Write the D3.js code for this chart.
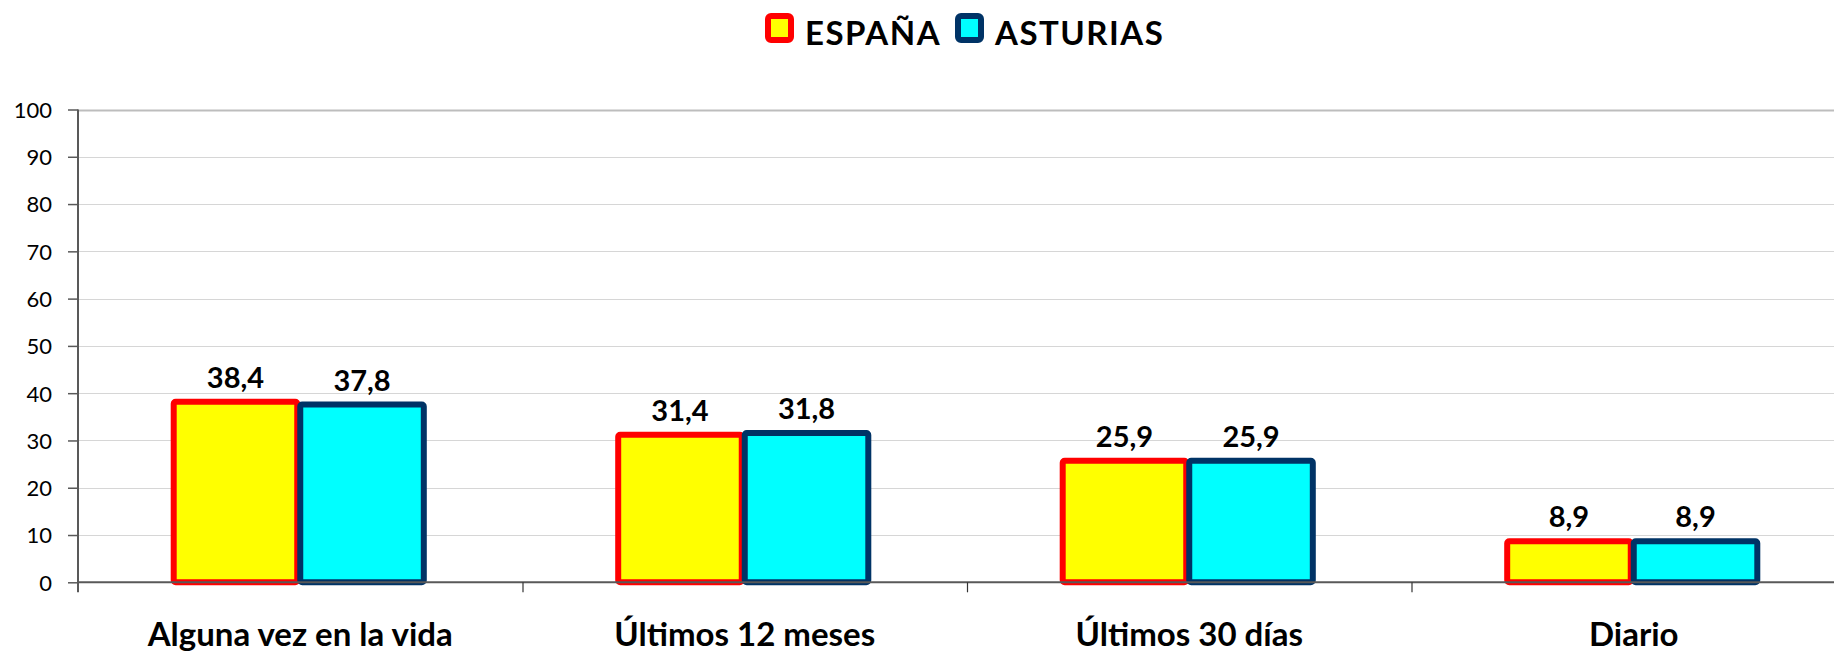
<!DOCTYPE html>
<html>
<head>
<meta charset="utf-8">
<script src="https://cdn.jsdelivr.net/npm/d3@7"></script>
<style>
  body { margin: 0; background: #fff; }
  svg { display: block; font-family: Lato, "Open Sans", sans-serif; }
</style>
</head>
<body>
<svg id="chart"></svg>
<script>
// data
var categories = ["Alguna vez en la vida", "Últimos 12 meses", "Últimos 30 días", "Diario"];
var seriesNames = ["ESPAÑA", "ASTURIAS"];
var espana = [38.4, 31.4, 25.9, 8.9];
var asturias = [37.8, 31.8, 25.9, 8.9];
var yTicks = [0, 10, 20, 30, 40, 50, 60, 70, 80, 90, 100];

var fills = ["#ffff00", "#00ffff"];
var strokes = ["#ff0000", "#003366"];

var W = 1834, H = 654;
var left = 78, bandW = 444.5;
var y0 = 582.3, y100 = 109.5;

var svg = d3.select("#chart").attr("width", W).attr("height", H);

var x = d3.scaleBand().domain(categories).range([left, left + bandW * categories.length]);
var xSub = d3.scaleBand().domain(seriesNames).range([92.7, bandW - 92.7]);
var y = d3.scaleLinear().domain([0, 100]).range([y0, y100]);

// gridlines
svg.append("g").selectAll("line")
  .data(yTicks.filter(d => d > 0))
  .join("line")
  .attr("x1", left).attr("x2", W)
  .attr("y1", d => Math.round(y(d)) + 0.5).attr("y2", d => Math.round(y(d)) + 0.5)
  .attr("stroke", d => d == 100 ? "#bdbdbd" : "#d6d6d6")
  .attr("stroke-width", d => d == 100 ? 2 : 1.2);

// y axis
var yAxis = d3.axisLeft(y).tickValues(yTicks).tickSize(10).tickPadding(16);
var gY = svg.append("g")
  .attr("transform", "translate(" + left + ",0)")
  .call(yAxis)
  .attr("font-size", 22)
  .attr("font-family", "Lato, sans-serif");
gY.select(".domain").remove();
gY.selectAll(".tick line").attr("stroke", "#595959").attr("stroke-width", 1.5);
gY.selectAll(".tick text").attr("fill", "#000").attr("dy", "0.36em");
svg.append("line")
  .attr("x1", left).attr("x2", left)
  .attr("y1", y100).attr("y2", y0 + 10)
  .attr("stroke", "#595959").attr("stroke-width", 2);

// bars
var data = [espana, asturias];
var gBars = svg.append("g");
data.forEach(function(vals, s) {
  var shift = s == 1 ? -3 : 0;
  gBars.selectAll(".bar" + s)
    .data(vals)
    .join("rect")
    .attr("class", "bar" + s)
    .attr("x", (d, i) => x(categories[i]) + xSub(seriesNames[s]) + 3 + shift)
    .attr("y", d => y(d) + 1)
    .attr("width", xSub.bandwidth() - 6)
    .attr("height", d => y0 - y(d) - 1)
    .attr("rx", 2)
    .attr("fill", fills[s])
    .attr("stroke", strokes[s])
    .attr("stroke-width", 6);

  svg.append("g").selectAll("text")
    .data(vals)
    .join("text")
    .attr("x", (d, i) => x(categories[i]) + xSub(seriesNames[s]) + xSub.bandwidth() / 2 + shift)
    .attr("y", d => y(d) - 13)
    .attr("text-anchor", "middle")
    .attr("font-size", 29)
    .attr("font-weight", "bold")
    .text(d => d3.format(".1f")(d).replace(".", ","));
});

// x axis (baseline + category ticks)
svg.append("line")
  .attr("x1", left).attr("x2", W)
  .attr("y1", y0).attr("y2", y0)
  .attr("stroke", "#595959").attr("stroke-width", 2);
svg.append("g").selectAll("line")
  .data(categories.slice(1))
  .join("line")
  .attr("x1", d => x(d) + 0.5).attr("x2", d => x(d) + 0.5)
  .attr("y1", y0).attr("y2", y0 + 10)
  .attr("stroke", "#333").attr("stroke-width", 1.2);
svg.append("g").selectAll("text")
  .data(categories)
  .join("text")
  .attr("x", d => x(d) + x.bandwidth() / 2)
  .attr("y", 646)
  .attr("text-anchor", "middle")
  .attr("font-size", 33)
  .attr("font-weight", "bold")
  .text(d => d);

// legend
var legX = [768, 958];
var legend = svg.append("g");
seriesNames.forEach(function(n, s) {
  legend.append("rect")
    .attr("x", legX[s]).attr("y", 16)
    .attr("width", 23).attr("height", 24)
    .attr("rx", 3)
    .attr("fill", fills[s])
    .attr("stroke", strokes[s])
    .attr("stroke-width", 6);
  legend.append("text")
    .attr("x", legX[s] + 37).attr("y", 45)
    .attr("font-size", 33)
    .attr("font-weight", "bold")
    .attr("letter-spacing", 1.5)
    .text(n);
});
</script>
</body>
</html>
